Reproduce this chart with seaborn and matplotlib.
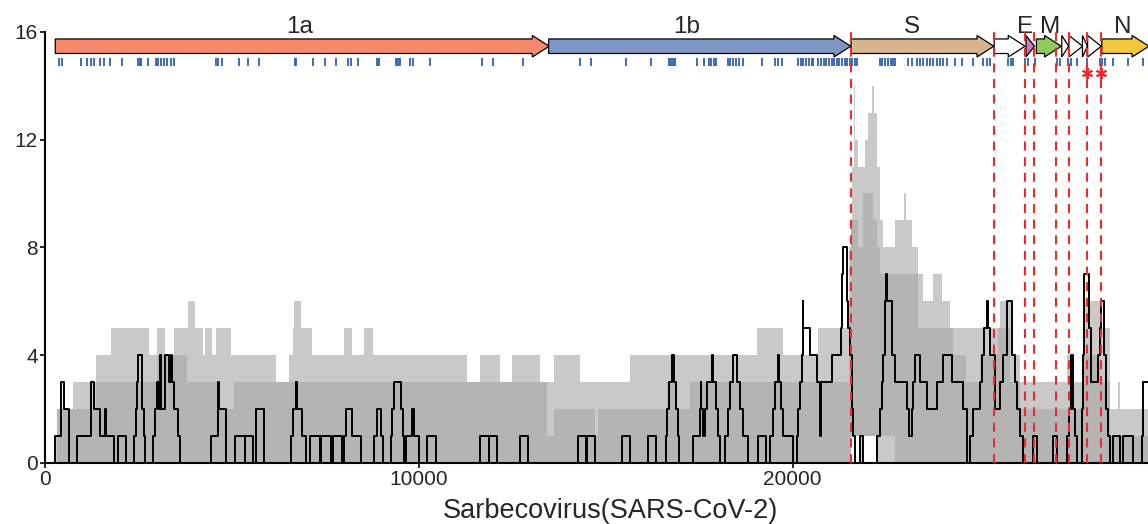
import numpy as np
import matplotlib
matplotlib.use("Agg")
import matplotlib.pyplot as plt
import seaborn as sns
from matplotlib.patches import Polygon

# ---- genome annotation (SARS-CoV-2 coordinates) ----
gene_start = [266, 13468, 21563, 25393, 26245, 26523, 27202, 27394, 27756, 27894, 28274]
gene_end = [13483, 21555, 25384, 26220, 26472, 27191, 27387, 27759, 27887, 28259, 29533]
gene_color = ['#F4896B', '#8096C4', '#D8B48C', 'white', '#C97AB8', '#92C95A',
              'white', 'white', 'white', 'white', '#F5C73F']
label_text = ['1a', '1b', 'S', 'E', 'M', 'N']
label_pos = [6800, 17150, 23190, 26220, 26890, 28830]

# red dashed boundaries and the two starred sites
boundary_pos = [21560, 25384, 26220, 26470, 27040, 27387, 27887, 28259]
star_pos = [27880, 28250]

# mutation sites (blue rug under the genes)
rug_pos = [374, 441, 946, 1109, 1214, 1300, 1452, 1567, 1729, 2044, 2473, 2521, 2569,
           2741, 2951, 3027, 3103, 3180, 3256, 3351, 3447, 4554, 4621, 4716, 5174,
           5432, 5718, 6673, 6720, 7169, 7484, 7770, 8104, 8180, 8372, 8868, 8935,
           9374, 9441, 9489, 9746, 9842, 10300, 11683, 11970, 12781, 14308, 14594,
           15527, 16212, 16687, 16744, 16801, 16858, 17448, 17619, 17771, 17828,
           17885, 17952, 18266, 18332, 18399, 18475, 18551, 18684, 19178, 19521,
           19616, 19711, 20151, 20210, 20281, 20358, 20434, 20510, 20552, 20686,
           20760, 20830, 20900, 20970, 21040, 21110, 21180, 21250, 21320, 21390,
           21444, 21542, 21600, 21660, 21712, 22336, 22392, 22468, 22544, 22621,
           22678, 22738, 23095, 23184, 23318, 23400, 23500, 23585, 23674, 23760,
           23850, 23940, 24030, 24120, 24343, 24522, 24834, 25101, 25190, 25280,
           25770, 25840, 25904, 26216, 26306, 26484, 27064, 27154, 27377, 27460,
           27600, 27866, 28223, 28290, 28357, 28580, 28981, 29383]

# ---- light grey envelope (step starts / level) ----
light_pos = [0, 270, 320, 730, 1350, 1760, 2780, 2990, 3190, 3450,
             3810, 4010, 4215, 4260, 4470, 4570, 4980, 6160, 6520, 6620,
             6650, 6850, 7130, 8000, 8210, 8520, 8770, 11280, 11630, 12170,
             12480, 13240, 13600, 14310, 15650, 19040, 19750, 20690, 21500, 21550,
             21600, 21630, 21660, 21750, 21930, 22020, 22130, 22170, 22250, 22340,
             22430, 22740, 22980, 23040, 23190, 23360, 23500, 23760, 23990, 24210,
             25550, 25900, 26080, 27330, 27510, 27780, 28220, 28490, 28720, 28770,
             29540]
light_val = [0, 1, 2, 3, 4, 5, 4, 5, 4, 5,
             6, 5, 4, 5, 4, 5, 4, 3, 4, 5,
             6, 5, 4, 5, 4, 5, 4, 3, 4, 3,
             4, 3, 4, 3, 4, 5, 4, 5, 8, 9,
             11, 14, 12, 11, 12, 13, 14, 13, 11, 9,
             8, 9, 10, 9, 8, 7, 6, 7, 6, 5,
             6, 4, 3, 4, 3, 6, 5, 2, 3, 2,
             2]
light_lo_pos = [0, 21560, 21800, 21890, 22250, 29540]
light_lo_val = [0, 1, 0, 1, 0, 0]

# ---- darker grey envelope ----
med_pos = [0, 320, 1350, 3000, 3800, 4600, 5050, 13420, 13600, 14700,
           14800, 16630, 16900, 17250, 21500, 21560, 21750, 21890, 22160, 22250,
           22340, 23360, 24300, 24650, 25010, 25370, 25500, 25820, 26080, 27780,
           28220, 28490, 29540]
med_val = [0, 2, 3, 4, 3, 2, 3, 1, 2, 1,
           2, 3, 2, 3, 6, 9, 8, 10, 9, 8,
           7, 5, 4, 3, 4, 4, 5, 3, 2, 4,
           3, 1, 1]
med_lo_pos = [0, 21560, 22740, 29540]
med_lo_val = [0, 1, 0, 0]

# ---- black line (SARS-CoV-2) ----
focal_pos = [0, 270, 430, 510, 630, 840, 1215, 1300, 1450, 1600, 1630, 1840, 1940, 2170,
             2370, 2420, 2450, 2470, 2580, 2600, 2630, 2660, 2880, 2930, 2980, 3030, 3060,
             3100, 3190, 3300, 3350, 3380, 3450, 3550, 3610, 4420, 4620, 4660, 4830, 5085,
             5330, 5345, 5560, 5630, 5860, 6570, 6620, 6700, 6730, 6860, 6980, 7080, 7340,
             7390, 7645, 7700, 7950, 8000, 8050, 8210, 8460, 8790, 8870, 8990, 9030, 9250,
             9290, 9330, 9530, 9570, 9600, 9640, 9800, 9860, 10010, 10220, 10450, 11630,
             11860, 11875, 12080, 12700, 12920, 14260, 14480, 14495, 14710, 15420, 15650,
             16140, 16340, 16610, 16650, 16700, 16760, 16830, 16880, 16920, 16960, 17340,
             17530, 17545, 17560, 17610, 17650, 17700, 17850, 17880, 17960, 18010, 18060,
             18190, 18280, 18320, 18410, 18500, 18590, 18680, 18810, 19080, 19300, 19400,
             19480, 19520, 19600, 19640, 19700, 19750, 20020, 20110, 20150, 20200, 20250,
             20265, 20290, 20463, 20641, 20720, 20760, 21043, 21290, 21310, 21355, 21444,
             21490, 21533, 21578, 21622, 21667, 21801, 21890, 22247, 22336, 22380, 22425,
             22470, 22497, 22532, 22648, 22737, 23050, 23121, 23183, 23228, 23273, 23406,
             23585, 23852, 24030, 24254, 24566, 24655, 24744, 24833, 25012, 25066, 25119,
             25190, 25235, 25280, 25413, 25547, 25636, 25726, 25860, 25949, 26011, 26082,
             26172, 26440, 26529, 26974, 27064, 27350, 27394, 27438, 27510, 27554, 27617,
             27733, 27760, 27795, 27938, 27982, 28179, 28223, 28250, 28330, 28383, 28446,
             28491, 28580, 28758, 28848, 29115, 29338, 29383, 29540]
focal_val = [0, 1, 3, 2, 0, 1, 3, 2, 1, 2, 1, 0, 1, 0,
             1, 2, 3, 4, 3, 2, 1, 0, 1, 2, 3, 2, 4,
             2, 4, 3, 4, 3, 2, 1, 0, 1, 3, 2, 0, 1,
             0, 1, 0, 2, 0, 1, 2, 3, 2, 1, 0, 1, 0,
             1, 0, 1, 0, 1, 2, 1, 0, 1, 2, 1, 0, 1,
             2, 3, 2, 1, 0, 1, 2, 1, 0, 1, 0, 1,
             0, 1, 0, 1, 0, 1, 0, 1, 0, 1, 0,
             1, 0, 1, 2, 3, 4, 3, 2, 1, 0, 1,
             2, 3, 2, 1, 2, 3, 4, 3, 2, 1, 0,
             1, 2, 3, 4, 3, 2, 1, 0, 1, 0, 1,
             2, 3, 4, 3, 2, 1, 0, 1, 2, 3, 4,
             6, 5, 4, 3, 1, 3, 4, 5, 7, 8, 6,
             5, 4, 2, 1, 0, 1, 0, 1, 2, 3, 4,
             6, 7, 6, 4, 3, 2, 1, 2, 3, 4, 3,
             2, 3, 4, 3, 2, 0, 1, 2, 3, 4, 5,
             6, 5, 4, 2, 3, 4, 6, 4, 3, 2, 1,
             0, 1, 0, 1, 0, 1, 2, 4, 2, 1, 0,
             2, 4, 7, 5, 3, 4, 5, 6, 4, 2, 1,
             0, 1, 0, 1, 0, 1, 3, 3]


def step_at(pos, val, x):
    idx = np.searchsorted(pos, x, side='right') - 1
    return np.asarray(val)[idx]


sns.set_theme(style='ticks')
plt.rcParams['font.family'] = ['Liberation Sans', 'DejaVu Sans']

fig = plt.figure(figsize=(11.48, 5.24), dpi=100)
ax = fig.add_axes([0.0395, 0.117, 0.9605, 0.822])

grid = np.unique(np.concatenate([light_pos, med_pos, light_lo_pos, med_lo_pos]))
ax.fill_between(grid, step_at(light_lo_pos, light_lo_val, grid),
                step_at(light_pos, light_val, grid), step='post',
                color='#C9C9C9', lw=0, zorder=1)
ax.fill_between(grid, step_at(med_lo_pos, med_lo_val, grid),
                step_at(med_pos, med_val, grid), step='post',
                color='#B4B4B5', lw=0, zorder=2)

sns.lineplot(x=focal_pos, y=focal_val, drawstyle='steps-post', estimator=None,
             sort=False, color='black', linewidth=1.4, ax=ax, zorder=3)

# gene arrows
yc, hb, hh, head = 15.47, 0.27, 0.40, 450
for s, e, c in zip(gene_start, gene_end, gene_color):
    L = min(head, e - s)
    if L == e - s:
        pts = [(s, yc - hh), (e, yc), (s, yc + hh)]
    else:
        pts = [(s, yc - hb), (e - L, yc - hb), (e - L, yc - hh), (e, yc),
               (e - L, yc + hh), (e - L, yc + hb), (s, yc + hb)]
    ax.add_patch(Polygon(pts, closed=True, facecolor=c, edgecolor='black',
                         lw=0.9, zorder=5))
for t, x in zip(label_text, label_pos):
    ax.text(x, 15.98, t, ha='center', va='baseline', fontsize=17.5, clip_on=False)

ax.vlines(rug_pos, 14.75, 15.05, color='#2F5FB3', lw=1.3, zorder=5)

for b in boundary_pos:
    ax.plot([b, b], [0, 16.1], color='#EE2A2A', lw=1.5, ls=(0, (4.3, 3.2)),
            clip_on=False, zorder=6)
ax.plot(star_pos, [14.47] * len(star_pos), ls='none', marker=(6, 2, 0), ms=8,
        mew=1.4, color='#EE2A2A', zorder=6, clip_on=False)

ax.set_xlim(0, 29510)
ax.set_ylim(0, 16)
ax.set_xticks([0, 10000, 20000])
ax.set_yticks([0, 4, 8, 12, 16])
ax.tick_params(labelsize=15, width=1.2, length=3.5, color='black', pad=2)
ax.set_xlabel('Sarbecovirus(SARS-CoV-2)', fontsize=19.5, labelpad=6, x=0.512)
ax.set_ylabel('')
for side in ['left', 'bottom']:
    ax.spines[side].set_linewidth(1.5)
    ax.spines[side].set_color('black')
sns.despine(ax=ax)

fig.savefig('out.png', dpi=100)
